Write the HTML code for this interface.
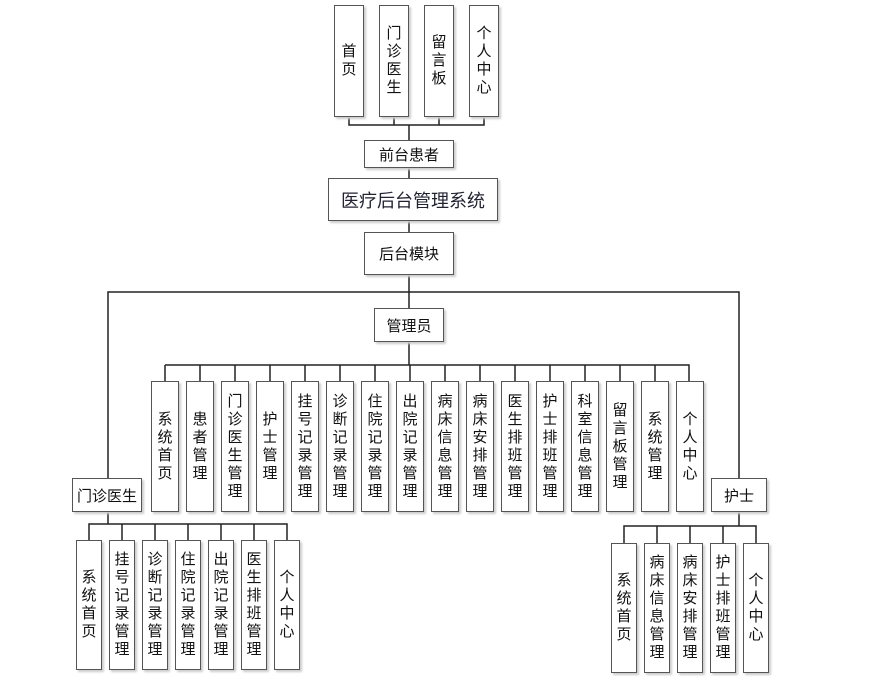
<!DOCTYPE html>
<html><head><meta charset="utf-8"><style>
body{margin:0;background:#fff;width:871px;height:683px;position:relative;overflow:hidden;font-family:"Liberation Sans","Noto Sans CJK SC",sans-serif;color:#111}
svg{position:absolute;left:0;top:0}
.b{position:absolute;box-sizing:border-box;border:1.5px solid #555;background:#fff;box-shadow:2px 2px 2px #ccc;display:flex;align-items:center;justify-content:center;font-size:15px}
.v{flex-direction:column}
.v span{display:block;width:16px;line-height:18px;text-align:center;word-break:break-all;font-size:15px}
</style></head><body>
<svg width="871" height="683">
<g stroke="#222" stroke-width="1.5" fill="none">
<path d="M349 117V125H484V117M394 117V125M439 117V125M409 125V140M409 167V178M409 221V232M409 275V308M108 478V292H739V478M409 342V365H165M165 365V381M409 365H689V381"/>
<path d="M200 365V381M235 365V381M270 365V381M305 365V381M340 365V381M375 365V381M410 365V381M445 365V381M480 365V381M515 365V381M550 365V381M585 365V381M620 365V381M655 365V381"/>
<path d="M108 511V524M89 540V524H287V540M122 524V540M155 524V540M188 524V540M221 524V540M254 524V540"/>
<path d="M739 512V526M624 543V526H756V543M657 526V543M690 526V543M723 526V543"/>
</g></svg>
<div class="b v" style="left:334px;top:5px;width:30px;height:112px"><span>首页</span></div>
<div class="b v" style="left:379px;top:5px;width:30px;height:112px"><span>门诊医生</span></div>
<div class="b v" style="left:424px;top:5px;width:30px;height:112px"><span>留言板</span></div>
<div class="b v" style="left:469px;top:5px;width:30px;height:112px"><span>个人中心</span></div>
<div class="b" style="left:364px;top:140px;width:90px;height:28px">前台患者</div>
<div class="b" style="left:328px;top:178px;width:170px;height:43px;font-size:18px;color:#223">医疗后台管理系统</div>
<div class="b" style="left:364px;top:232px;width:90px;height:43px">后台模块</div>
<div class="b" style="left:374px;top:308px;width:70px;height:34px">管理员</div>
<div class="b" style="left:72px;top:478px;width:70px;height:34px">门诊医生</div>
<div class="b" style="left:711px;top:478px;width:56px;height:34px">护士</div>

<div class="b v" style="left:151px;top:381px;width:28px;height:131px"><span>系统首页</span></div>
<div class="b v" style="left:186px;top:381px;width:28px;height:131px"><span>患者管理</span></div>
<div class="b v" style="left:221px;top:381px;width:28px;height:131px"><span>门诊医生管理</span></div>
<div class="b v" style="left:256px;top:381px;width:28px;height:131px"><span>护士管理</span></div>
<div class="b v" style="left:291px;top:381px;width:28px;height:131px"><span>挂号记录管理</span></div>
<div class="b v" style="left:326px;top:381px;width:28px;height:131px"><span>诊断记录管理</span></div>
<div class="b v" style="left:361px;top:381px;width:28px;height:131px"><span>住院记录管理</span></div>
<div class="b v" style="left:396px;top:381px;width:28px;height:131px"><span>出院记录管理</span></div>
<div class="b v" style="left:431px;top:381px;width:28px;height:131px"><span>病床信息管理</span></div>
<div class="b v" style="left:466px;top:381px;width:28px;height:131px"><span>病床安排管理</span></div>
<div class="b v" style="left:501px;top:381px;width:28px;height:131px"><span>医生排班管理</span></div>
<div class="b v" style="left:536px;top:381px;width:28px;height:131px"><span>护士排班管理</span></div>
<div class="b v" style="left:571px;top:381px;width:28px;height:131px"><span>科室信息管理</span></div>
<div class="b v" style="left:606px;top:381px;width:28px;height:131px"><span>留言板管理</span></div>
<div class="b v" style="left:641px;top:381px;width:28px;height:131px"><span>系统管理</span></div>
<div class="b v" style="left:676px;top:381px;width:28px;height:131px"><span>个人中心</span></div>

<div class="b v" style="left:76px;top:540px;width:26px;height:130px"><span>系统首页</span></div>
<div class="b v" style="left:109px;top:540px;width:26px;height:130px"><span>挂号记录管理</span></div>
<div class="b v" style="left:142px;top:540px;width:26px;height:130px"><span>诊断记录管理</span></div>
<div class="b v" style="left:175px;top:540px;width:26px;height:130px"><span>住院记录管理</span></div>
<div class="b v" style="left:208px;top:540px;width:26px;height:130px"><span>出院记录管理</span></div>
<div class="b v" style="left:241px;top:540px;width:26px;height:130px"><span>医生排班管理</span></div>
<div class="b v" style="left:274px;top:540px;width:26px;height:130px"><span>个人中心</span></div>

<div class="b v" style="left:611px;top:543px;width:26px;height:130px"><span>系统首页</span></div>
<div class="b v" style="left:644px;top:543px;width:26px;height:130px"><span>病床信息管理</span></div>
<div class="b v" style="left:677px;top:543px;width:26px;height:130px"><span>病床安排管理</span></div>
<div class="b v" style="left:710px;top:543px;width:26px;height:130px"><span>护士排班管理</span></div>
<div class="b v" style="left:743px;top:543px;width:26px;height:130px"><span>个人中心</span></div>
</body></html>
